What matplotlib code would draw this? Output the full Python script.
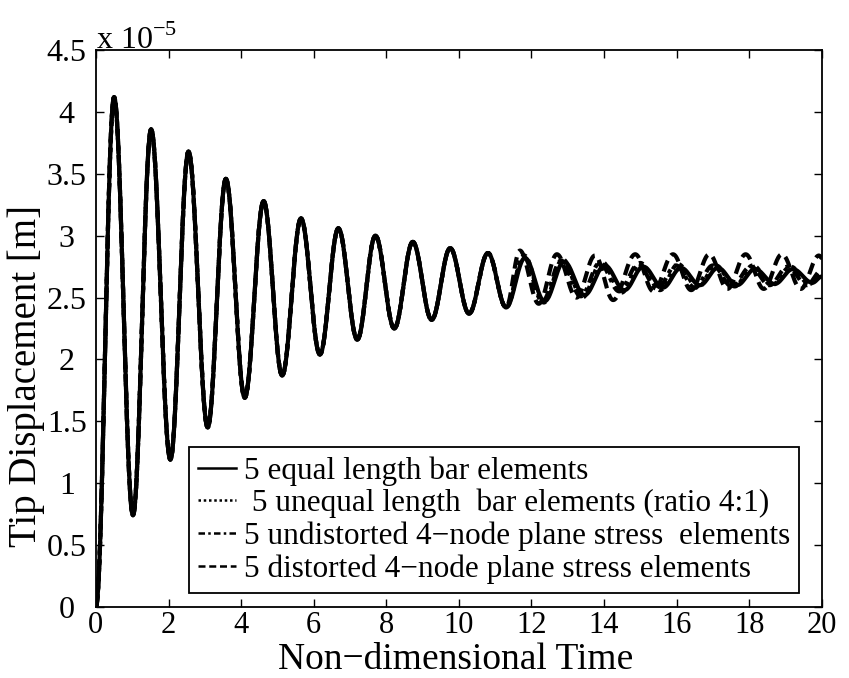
import numpy as np
import matplotlib
matplotlib.use("Agg")
import matplotlib.pyplot as plt

plt.rcParams['font.family'] = ['Liberation Serif', 'DejaVu Serif']
plt.rcParams['mathtext.fontset'] = 'custom'
plt.rcParams['mathtext.rm'] = 'Liberation Serif'

# Turning points (time, displacement in 1e-5 m) of each response history
common_t = [0.0, 0.50, 1.02, 1.52, 2.05, 2.55, 3.08, 3.58, 4.10, 4.62, 5.13, 5.65,
            6.17, 6.68, 7.20, 7.70, 8.22, 8.73, 9.25, 9.76, 10.28, 10.80, 11.30]
common_v = [0.0, 4.12, 0.74, 3.86, 1.19, 3.68, 1.45, 3.46, 1.69, 3.28, 1.87, 3.14,
            2.04, 3.06, 2.16, 3.00, 2.25, 2.95, 2.32, 2.90, 2.37, 2.86, 2.42]

equal_t = [11.82, 12.36, 12.90, 13.46, 14.02, 14.56, 15.08, 15.62, 16.12, 16.64,
           17.14, 17.66, 18.16, 18.70, 19.20, 19.74, 20.0]
equal_v = [2.82, 2.47, 2.79, 2.52, 2.76, 2.56, 2.75, 2.58, 2.74, 2.60,
           2.74, 2.60, 2.73, 2.61, 2.73, 2.62, 2.67]

unequal_t = [11.80, 12.34, 12.86, 13.40, 13.94, 14.48, 15.00, 15.54, 16.04, 16.58,
             17.08, 17.60, 18.10, 18.62, 19.14, 19.66, 20.0]
unequal_v = [2.84, 2.46, 2.81, 2.50, 2.79, 2.54, 2.78, 2.56, 2.77, 2.58,
             2.76, 2.59, 2.76, 2.60, 2.75, 2.61, 2.70]

undist_t = [11.78, 12.30, 12.82, 13.36, 13.88, 14.42, 14.94, 15.46, 15.98, 16.50,
            17.00, 17.52, 18.04, 18.56, 19.06, 19.58, 20.0]
undist_v = [2.83, 2.47, 2.80, 2.51, 2.78, 2.55, 2.77, 2.57, 2.76, 2.58,
            2.76, 2.59, 2.75, 2.60, 2.75, 2.60, 2.72]

dist_t = [11.68, 12.20, 12.70, 13.24, 13.75, 14.25, 14.86, 15.36, 15.90, 16.40,
          16.90, 17.40, 17.90, 18.40, 18.90, 19.42, 19.92, 20.0]
dist_v = [2.88, 2.45, 2.85, 2.50, 2.84, 2.48, 2.85, 2.55, 2.85, 2.56,
          2.85, 2.57, 2.85, 2.57, 2.85, 2.57, 2.84, 2.82]

labels = ["5 equal length bar elements",
          " 5 unequal length  bar elements (ratio 4:1)",
          "5 undistorted 4\u2212node plane stress  elements",
          "5 distorted 4\u2212node plane stress elements"]

x_ticks = [0, 2, 4, 6, 8, 10, 12, 14, 16, 18, 20]
y_ticks = [0, 0.5, 1, 1.5, 2, 2.5, 3, 3.5, 4, 4.5]
y_tick_labels = ['0', '0.5', '1', '1.5', '2', '2.5', '3', '3.5', '4', '4.5']


def history(tk, vk, n=40):
    """Connect successive turning points with half-cosine arcs."""
    ts, vs = [], []
    for i in range(len(tk) - 1):
        s = np.linspace(0, 1, n, endpoint=False)
        ts.append(tk[i] + (tk[i + 1] - tk[i]) * s)
        vs.append(vk[i] + (vk[i + 1] - vk[i]) * (1 - np.cos(np.pi * s)) / 2)
    ts.append([tk[-1]])
    vs.append([vk[-1]])
    return np.concatenate(ts), np.concatenate(vs)


fig = plt.figure(figsize=(8.49, 6.78), dpi=100)
ax = fig.add_axes([0.113, 0.105, 0.855, 0.821])

styles = [dict(ls='-'),
          dict(ls=(0, (1.0, 1.1))),
          dict(ls=(0, (2.6, 1.3, 1.0, 1.3))),
          dict(ls=(0, (2.8, 1.5)))]
tails = [(equal_t, equal_v), (unequal_t, unequal_v),
         (undist_t, undist_v), (dist_t, dist_v)]

handles = []
for (tt, vv), st, lab in zip(tails, styles, labels):
    t, v = history(common_t + tt, common_v + vv)
    ax.plot(t, v, color='black', lw=3.0, **st)
    h, = ax.plot([], [], color='black', lw=1.8, label=lab, **st)
    handles.append(h)

ax.set_xlim(0, 20)
ax.set_ylim(0, 4.5)
ax.set_xticks(x_ticks)
ax.set_yticks(y_ticks)
ax.set_yticklabels(y_tick_labels)
ax.tick_params(direction='in', top=True, right=True, length=6, width=1,
               labelsize=23)
ax.tick_params(axis='x', labelsize=22, pad=3)
ax.tick_params(axis='y', pad=21)
for lab in ax.get_yticklabels():
    lab.set_horizontalalignment('center')
for sp in ax.spines.values():
    sp.set_linewidth(1.3)

fig.text(0.537, 0.002, "Non\u2212dimensional Time", fontsize=27,
         ha='center', va='bottom')
fig.text(0.031, 0.445, "Tip Displacement [m]", fontsize=28,
         rotation=90, ha='center', va='center')
ax.text(0.0, 0.99, r"x 10$^{-5}$", transform=ax.transAxes, fontsize=23,
        ha='left', va='bottom')

leg = ax.legend(handles=handles, loc='lower left', bbox_to_anchor=(0.128, 0.025),
                fontsize=22.5, frameon=True, fancybox=False, framealpha=1,
                edgecolor='black', handlelength=1.2, handletextpad=0.25,
                labelspacing=0.1, borderpad=0.3, borderaxespad=0)
leg.get_frame().set_linewidth(1.3)

fig.savefig("out.png", dpi=100)
